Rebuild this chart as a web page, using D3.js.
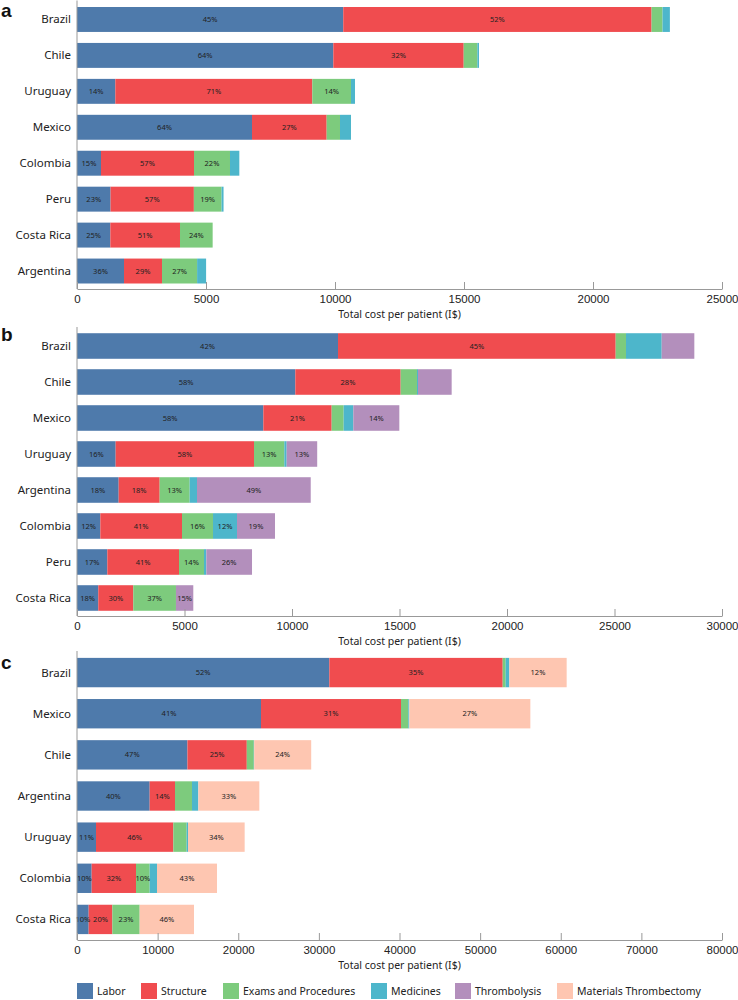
<!DOCTYPE html>
<html><head><meta charset="utf-8">
<script src="https://cdn.jsdelivr.net/npm/d3@7"></script>
<style>
body{margin:0;background:#fff;}
svg{display:block;}
</style></head>
<body>
<svg id="chart" width="738" height="1000"></svg>
<script>
// ---------- DATA ----------
const componentNames = ["Labor","Structure","Exams and Procedures","Medicines","Thrombolysis","Materials Thrombectomy"];
const componentColors = ["#4e7aab","#f04c4f","#7dcb7d","#4db6cb","#b38fbc","#fec6b1"];

// Panel a
const countriesA = ["Brazil","Chile","Uruguay","Mexico","Colombia","Peru","Costa Rica","Argentina"];
const laborA     = [10320, 9935, 1486, 6783,  930, 1300, 1292, 1822];
const structureA = [11950, 5053, 7635, 2894, 3605, 3230, 2700, 1473];
const examsA     = [  425,  529, 1499,  517, 1395, 1072, 1266, 1360];
const medicinesA = [  285,   64,  155,  426,  362,   78,    0,  349];
const ticksA = [0,5000,10000,15000,20000,25000];

// Panel b
const countriesB = ["Brazil","Chile","Mexico","Uruguay","Argentina","Colombia","Peru","Costa Rica"];
const laborB        = [12140, 10155, 8667, 1798, 1938, 1085, 1411,  990];
const structureB    = [12915,  4899, 3178, 6435, 1907, 3799, 3333, 1628];
const examsB        = [  480,   760,  558, 1410, 1395, 1442, 1163, 1985];
const medicinesB    = [ 1660,    46,  450,  109,  341, 1116,  109,    0];
const thrombolysisB = [ 1518,  1566, 2139, 1420, 5290, 1767, 2124,  806];
const ticksB = [0,5000,10000,15000,20000,25000,30000];

// Panel c
const countriesC = ["Brazil","Mexico","Chile","Argentina","Uruguay","Colombia","Costa Rica"];
const laborC     = [31296, 22822, 13700, 9013, 2357, 1819, 1447];
const structureC = [21504, 17364,  7359, 3142, 9591, 5499, 2936];
const examsC     = [  370,   910,   869, 2109, 1654, 1695, 3390];
const medicinesC = [  452,   124,    50,  785,  165,  909,    0];
const materialsC = [ 7111, 15009,  7070, 7566, 7028, 7442, 6739];
const ticksC = [0,10000,20000,30000,40000,50000,60000,70000,80000];

// ---------- DRAW ----------
const svg = d3.select("#chart");
const X0 = 77, X1 = 722;
const labelFont = "'Noto Sans', 'Open Sans', sans-serif";
const tickFont = "'Liberation Sans', Arial, sans-serif";

function panel(opts){
  const {letter, letterY, countries, series, keys, maxX, ticks, yTop, yBot, pad} = opts;
  const rows = countries.map((c,i)=>{
    const o = {country:c};
    keys.forEach((k,j)=>{ o[k] = series[j][i]; });
    return o;
  });
  const x = d3.scaleLinear().domain([0,maxX]).range([X0,X1]);
  const y = d3.scaleBand().domain(countries).range([yTop,yBot]).paddingInner(pad).paddingOuter(pad/2);
  const stack = d3.stack().keys(keys)(rows);
  const g = svg.append("g");

  // bars
  stack.forEach(layer=>{
    const color = componentColors[componentNames.indexOf(layer.key)];
    g.append("g").selectAll("rect").data(layer).join("rect")
      .attr("x", d=>x(d[0]))
      .attr("y", d=>y(d.data.country))
      .attr("width", d=>Math.max(0, x(d[1])-x(d[0])))
      .attr("height", y.bandwidth())
      .attr("fill", color);
  });
  // percent labels
  stack.forEach(layer=>{
    g.append("g").selectAll("text").data(layer.filter(d=>{
        const tot = keys.reduce((s,k)=>s+d.data[k],0);
        return Math.round((d[1]-d[0])/tot*100) >= 10;
      })).join("text")
      .attr("x", d=>(x(d[0])+x(d[1]))/2)
      .attr("y", d=>y(d.data.country)+y.bandwidth()/2)
      .attr("dy","0.35em")
      .attr("text-anchor","middle")
      .attr("font-family", labelFont)
      .attr("font-size", 7.5)
      .attr("fill","#222")
      .text(d=>{
        const tot = keys.reduce((s,k)=>s+d.data[k],0);
        return Math.round((d[1]-d[0])/tot*100) + "%";
      });
  });

  // y axis line & labels
  g.append("line").attr("x1",X0).attr("x2",X0).attr("y1",yTop-1).attr("y2",yBot)
    .attr("stroke","#999").attr("stroke-width",1);
  g.append("g").selectAll("text").data(countries).join("text")
    .attr("x",71).attr("y",d=>y(d)+y.bandwidth()/2).attr("dy","0.35em")
    .attr("text-anchor","end").attr("font-family",labelFont).attr("font-size",11.5)
    .attr("fill","#222").text(d=>d);

  // x axis
  const ax = g.append("g").attr("transform",`translate(0,${yBot})`)
    .call(d3.axisBottom(x).tickValues(ticks).tickFormat(d3.format("d")).tickSizeInner(-7).tickSizeOuter(0).tickPadding(6));
  ax.select(".domain").attr("stroke","#999");
  ax.selectAll(".tick line").attr("stroke","#999");
  ax.selectAll(".tick text").attr("font-family",tickFont).attr("font-size",11.5).attr("fill","#222")
    .attr("dy","0.71em").attr("y",6);
  g.append("text").attr("x",(X0+X1)/2).attr("y",yBot+29).attr("text-anchor","middle")
    .attr("font-family",labelFont).attr("font-size",10.5).attr("fill","#222")
    .text("Total cost per patient (I$)");

  // panel letter
  g.append("text").attr("x",1).attr("y",letterY).attr("font-family",tickFont)
    .attr("font-weight","bold").attr("font-size",19).attr("fill","#111").text(letter);
}

panel({letter:"a", letterY:17, countries:countriesA,
  series:[laborA,structureA,examsA,medicinesA], keys:componentNames.slice(0,4),
  maxX:25000, ticks:ticksA, yTop:1.5, yBot:289, pad:0.306});
panel({letter:"b", letterY:341, countries:countriesB,
  series:[laborB,structureB,examsB,medicinesB,thrombolysisB], keys:componentNames.slice(0,5),
  maxX:30000, ticks:ticksB, yTop:328, yBot:616, pad:0.29});
panel({letter:"c", letterY:669, countries:countriesC,
  series:[laborC,structureC,examsC,medicinesC,materialsC], keys:[componentNames[0],componentNames[1],componentNames[2],componentNames[3],componentNames[5]],
  maxX:80000, ticks:ticksC, yTop:652, yBot:940, pad:0.286});

// legend
const legendX = [77, 141, 223, 371, 455, 557];
const lg = svg.append("g");
componentNames.forEach((n,i)=>{
  lg.append("rect").attr("x",legendX[i]).attr("y",983).attr("width",16).attr("height",16)
    .attr("fill",componentColors[i]);
  lg.append("text").attr("x",legendX[i]+20).attr("y",991).attr("dy","0.35em")
    .attr("font-family",labelFont).attr("font-size",10.5).attr("fill","#222").text(n);
});
</script>
</body></html>
